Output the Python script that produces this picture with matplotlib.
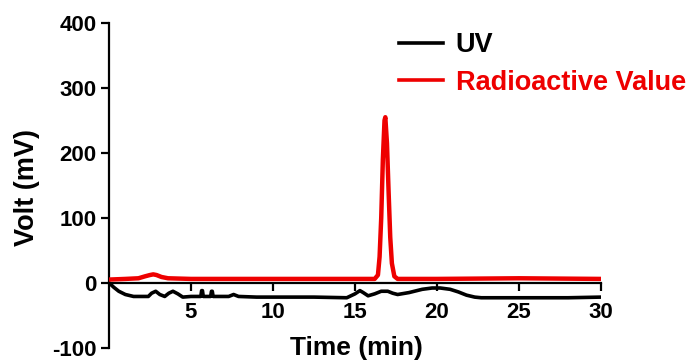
import numpy as np
import matplotlib.pyplot as plt
from matplotlib.ticker import MultipleLocator

plt.rcParams['font.family'] = ['Liberation Sans', 'DejaVu Sans']
plt.rcParams['font.weight'] = 'bold'
plt.rcParams['axes.unicode_minus'] = False

# UV trace (time in min, volt in mV)
uv_t = [0.0, 0.3, 0.6, 1.0, 1.5, 2.4, 2.6, 2.85, 3.1, 3.4, 3.65, 3.9, 4.2, 4.5,
        5.0, 5.6, 5.65, 5.7, 5.75, 6.2, 6.25, 6.3, 6.35, 7.3, 7.6, 7.9, 9.0,
        10.0, 12.5, 14.5, 15.0, 15.3, 15.5, 15.8, 16.2, 16.6, 17.0, 17.3,
        17.6, 18.3, 19.1, 19.7, 20.2, 20.8, 21.3, 21.8, 22.3, 22.7, 25.0,
        28.0, 30.0]
uv_v = [0, -7, -13, -18, -21, -21, -16, -13, -18, -21, -16, -13, -17, -22,
        -21, -21, -12, -12, -21, -21, -13, -13, -21, -21, -18, -21, -22,
        -22, -22, -23, -17, -12, -15, -20, -17, -13, -13, -16, -18, -15,
        -10, -8, -8, -10, -14, -19, -22, -23, -23, -23, -22]

# Radioactive trace
rad_t = [0.0, 1.0, 1.8, 2.2, 2.5, 2.7, 2.9, 3.2, 3.6, 5.0, 10.0, 15.0, 16.2,
         16.4, 16.5, 16.6, 16.7, 16.8, 16.85, 16.95, 17.05, 17.15, 17.25,
         17.4, 17.6, 20.0, 25.0, 30.0]
rad_v = [5, 6, 7, 10, 12, 13, 12, 9, 7, 6, 6, 6, 6, 12, 40, 100, 190, 250,
         255, 215, 140, 70, 30, 10, 6, 6, 7, 6]

fig = plt.figure(figsize=(6.94, 3.60), dpi=100)
ax = fig.add_axes([0.157, 0.034, 0.709, 0.902])

ax.plot(uv_t, uv_v, color='black', lw=2.6, label='UV', zorder=3)
ax.plot(rad_t, rad_v, color='#ee0000', lw=3.2, label='Radioactive Value', zorder=4)

ax.set_xlim(0, 30)
ax.set_ylim(-100, 400)
ax.spines['top'].set_visible(False)
ax.spines['right'].set_visible(False)
ax.spines['bottom'].set_position(('data', 0))
ax.spines['left'].set_linewidth(1.6)
ax.spines['bottom'].set_linewidth(1.6)

ax.xaxis.set_major_locator(MultipleLocator(5))
ax.yaxis.set_major_locator(MultipleLocator(100))
ax.set_xticks([5, 10, 15, 20, 25, 30])
ax.tick_params(axis='both', which='major', width=1.6, length=6, labelsize=16)
ax.tick_params(axis='x', pad=8)
ax.tick_params(axis='y', pad=3)

ax.set_xlabel('Time (min)', fontsize=19, fontweight='bold')
ax.set_ylabel('Volt (mV)', fontsize=19.5, fontweight='bold')
ax.xaxis.label.set_va('center')
ax.xaxis.set_label_coords(0.502, 0.0)
ax.yaxis.label.set_va('center')
ax.yaxis.set_label_coords(-0.167, 0.495)

leg = ax.legend(loc='upper left', bbox_to_anchor=(0.539, 1.046), frameon=False,
                fontsize=19.5, handlelength=1.63, handletextpad=0.48,
                labelspacing=0.42, labelcolor='linecolor')
for line in leg.get_lines():
    line.set_linewidth(2.6)

fig.savefig('out.png', dpi=100)
